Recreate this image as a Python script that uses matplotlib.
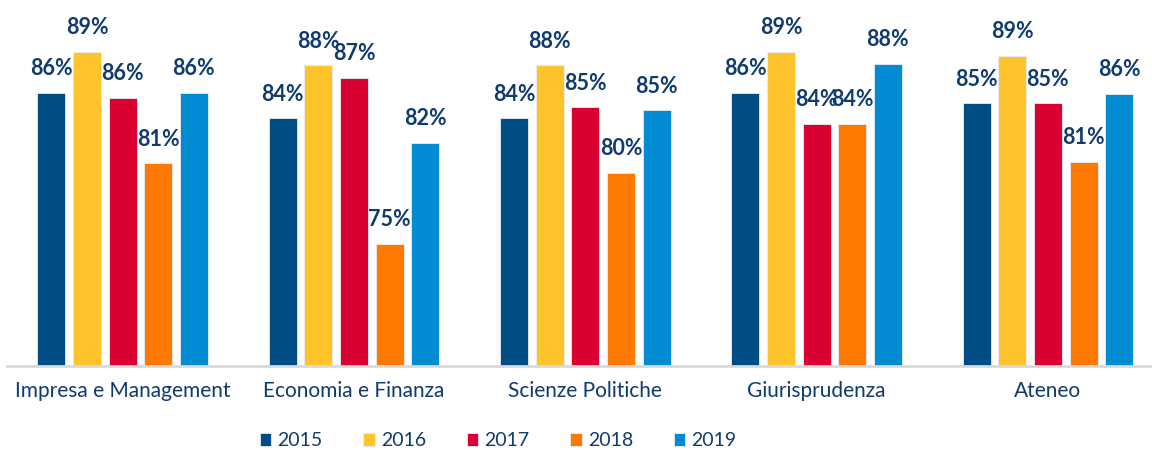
import matplotlib.pyplot as plt
import numpy as np

# Data
categories = ['Impresa e Management', 'Economia e Finanza', 'Scienze Politiche',
              'Giurisprudenza', 'Ateneo']
years = ['2015', '2016', '2017', '2018', '2019']
v2015 = [86.1, 84.2, 84.2, 86.1, 85.3]
v2016 = [89.1, 88.1, 88.1, 89.1, 88.8]
v2017 = [85.7, 87.2, 85.0, 83.8, 85.3]
v2018 = [80.9, 75.0, 80.2, 83.8, 81.0]
v2019 = [86.1, 82.4, 84.8, 88.2, 86.0]
series = [v2015, v2016, v2017, v2018, v2019]
colors = ['#004C84', '#FFC32B', '#DA0032', '#FF7800', '#008BD2']
text_color = '#0F3B6E'

fig = plt.figure(figsize=(11.52, 4.5), dpi=100)
ax = fig.add_axes([7 / 1152, 84 / 450, 1145 / 1152, 366 / 450])

x = np.arange(len(categories))
width = 0.121
step = 0.154
for i, (vals, year, col) in enumerate(zip(series, years, colors)):
    pos = x + (i - 2) * step
    ax.bar(pos, vals, width, color=col, label=year,
           edgecolor='#E8EEF5', linewidth=0.6)
    for xp, v in zip(pos, vals):
        ax.text(xp, v + 1.0, f'{round(v):.0f}%', ha='center', va='bottom',
                fontsize=15.5, fontweight='bold', color=text_color, family='Lato')

ax.set_ylim(66, 92.9)
ax.set_xlim(-0.5, 4.45)
ax.set_xticks(x)
ax.set_xticklabels(categories, fontsize=15, color=text_color, family='Lato')
ax.tick_params(axis='x', length=0, pad=11)
ax.set_yticks([])
for s in ['top', 'right', 'left']:
    ax.spines[s].set_visible(False)
ax.spines['bottom'].set_color('#D9D9D9')
ax.spines['bottom'].set_linewidth(2)

leg = fig.legend(loc='center', bbox_to_anchor=(498 / 1152, 1 - 441 / 450), ncol=5,
                 frameon=False, handlelength=0.6, handleheight=0.6,
                 handletextpad=0.3, columnspacing=2.1,
                 prop={'family': 'Lato', 'size': 14})
for t in leg.get_texts():
    t.set_color(text_color)

fig.savefig('out.png', dpi=100)
